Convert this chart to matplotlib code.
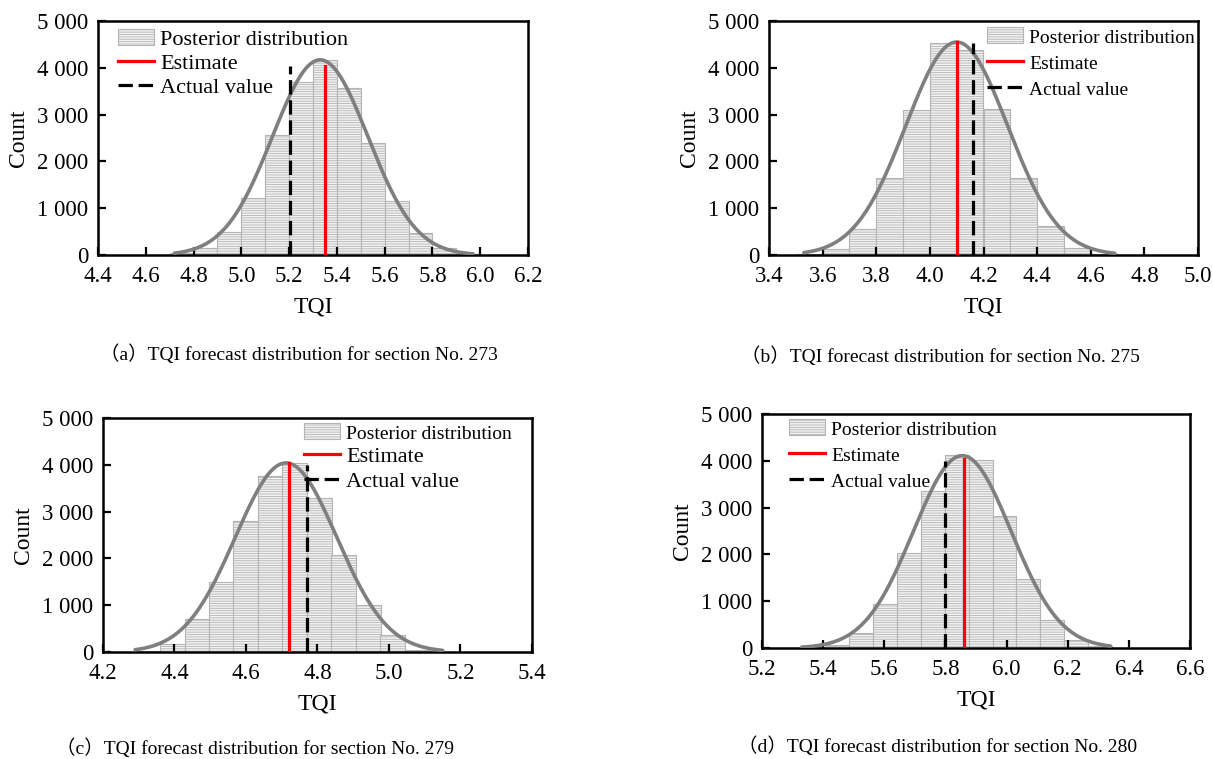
import numpy as np
import matplotlib
matplotlib.use("Agg")
import matplotlib.pyplot as plt
from matplotlib.ticker import FuncFormatter, MultipleLocator
from matplotlib.patches import Patch
from matplotlib.lines import Line2D

plt.rcParams['font.family'] = ['Liberation Serif', 'Noto Sans CJK SC', 'DejaVu Sans']
plt.rcParams['hatch.color'] = '#c4c4c4'
plt.rcParams['hatch.linewidth'] = 0.6

# ---------------- data ----------------
# (a) section 273
a_edges = [4.7, 4.8, 4.9, 5.0, 5.1, 5.2, 5.3, 5.4, 5.5, 5.6, 5.7, 5.8, 5.9]
a_counts = [40, 150, 500, 1220, 2560, 3700, 4170, 3570, 2400, 1160, 460, 150, 30]
a_width = 0.1
a_fit = dict(mu=5.33, sigma=0.20, peak=4170, lo=4.72, hi=5.97)
a_estimate, a_est_top = 5.35, 4030
a_actual, a_act_top = 5.205, 4030

# (b) section 275
b_edges = [3.5, 3.6, 3.7, 3.8, 3.9, 4.0, 4.1, 4.2, 4.3, 4.4, 4.5, 4.6]
b_counts = [20, 120, 560, 1650, 3100, 4530, 4380, 3120, 1640, 620, 150, 20]
b_width = 0.1
b_fit = dict(mu=4.10, sigma=0.19, peak=4550, lo=3.53, hi=4.69)
b_estimate, b_est_top = 4.10, 4550
b_actual, b_act_top = 4.16, 4540

# (c) section 279
c_edges = [4.292, 4.360, 4.428, 4.497, 4.565, 4.634, 4.702, 4.771, 4.839, 4.908, 4.976, 5.045]
c_counts = [20, 180, 700, 1500, 2800, 3770, 4040, 3300, 2080, 1000, 370, 50]
c_width = 0.0685
c_fit = dict(mu=4.712, sigma=0.142, peak=4040, lo=4.29, hi=5.15)
c_estimate, c_est_top = 4.72, 4040
c_actual, c_act_top = 4.77, 4000

# (d) section 280
d_edges = [5.330, 5.408, 5.486, 5.564, 5.642, 5.720, 5.798, 5.876, 5.954, 6.032, 6.110, 6.188, 6.266]
d_counts = [25, 60, 325, 940, 2020, 3360, 4120, 4020, 2820, 1470, 590, 180, 40]
d_width = 0.078
d_fit = dict(mu=5.855, sigma=0.16, peak=4110, lo=5.33, hi=6.34)
d_estimate, d_est_top = 5.86, 4030
d_actual, d_act_top = 5.80, 4000

xlims = {'a': (4.4, 6.2), 'b': (3.4, 5.0), 'c': (4.2, 5.4), 'd': (5.2, 6.6)}
captions = {
    'a': '（a）TQI forecast distribution for section No. 273',
    'b': '（b）TQI forecast distribution for section No. 275',
    'c': '（c）TQI forecast distribution for section No. 279',
    'd': '（d）TQI forecast distribution for section No. 280',
}
legend_labels = ['Posterior distribution', 'Estimate', 'Actual value']

# ---------------- layout (pixels) ----------------
W, H = 1213, 759
fig = plt.figure(figsize=(W / 100, H / 100), dpi=100)

boxes = {  # left, right, top, bottom
    'a': (98, 528, 21, 255),
    'b': (769, 1198, 21, 255),
    'c': (103, 532, 418, 652),
    'd': (762, 1190, 414, 648),
}
caption_pos = {'a': (299, 354), 'b': (940, 356), 'c': (255, 748), 'd': (938, 746)}
# legend anchor: (x pixel, y pixel of legend top, loc)
legend_anchor = {'a': (118, 29, 'upper left'), 'b': (1195, 27, 'upper right'),
                 'c': (512, 423, 'upper right'), 'd': (789, 419, 'upper left')}
legend_size = {'a': [16, 16, 16], 'b': [14, 14, 14], 'c': [14, 16, 16], 'd': [14, 14, 14]}
legend_spacing = {'a': 0.16, 'b': 0.3, 'c': 0.18, 'd': 0.3}

panels = {
    'a': (a_edges, a_counts, a_width, a_fit, a_estimate, a_est_top, a_actual, a_act_top),
    'b': (b_edges, b_counts, b_width, b_fit, b_estimate, b_est_top, b_actual, b_act_top),
    'c': (c_edges, c_counts, c_width, c_fit, c_estimate, c_est_top, c_actual, c_act_top),
    'd': (d_edges, d_counts, d_width, d_fit, d_estimate, d_est_top, d_actual, d_act_top),
}

fmt = FuncFormatter(lambda v, p: f"{int(round(v)):,}".replace(",", " "))
bar_face = '#f2f2f2'
bar_edge = '#b4b4b4'
curve_col = '#7f7f7f'

for key, (edges, counts, width, fit, est, est_top, act, act_top) in panels.items():
    l, r, t, b = boxes[key]
    ax = fig.add_axes([l / W, 1 - b / H, (r - l) / W, (b - t) / H])
    ax.bar(edges, counts, width=width, align='edge', color=bar_face,
           edgecolor=bar_edge, linewidth=0.8, hatch='-------', zorder=1)
    xs = np.linspace(fit['lo'], fit['hi'], 400)
    ys = fit['peak'] * np.exp(-0.5 * ((xs - fit['mu']) / fit['sigma']) ** 2)
    ax.plot(xs, ys, color=curve_col, lw=2.6, zorder=3, solid_capstyle='round')
    ax.plot([est, est], [0, est_top], color='#ff0000', lw=2.3, zorder=4)
    ln, = ax.plot([act, act], [0, act_top], color='black', lw=2.3, zorder=4)
    ln.set_dashes([4.5, 1.8])

    ax.set_xlim(*xlims[key])
    ax.set_ylim(0, 5000)
    ax.xaxis.set_major_locator(MultipleLocator(0.2))
    ax.xaxis.set_major_formatter(FuncFormatter(lambda v, p: f"{v:.1f}"))
    ax.yaxis.set_major_locator(MultipleLocator(1000))
    ax.yaxis.set_major_formatter(fmt)
    ax.tick_params(direction='in', length=6, width=1.6, labelsize=16.5, pad=7,
                   top=False, right=False)
    ax.tick_params(axis='x', pad=8)
    for s in ax.spines.values():
        s.set_linewidth(1.8)
    ax.set_xlabel('TQI', fontsize=17, labelpad=7)
    ax.set_ylabel('Count', fontsize=17, labelpad=6)

    handles = [
        Patch(facecolor=bar_face, edgecolor=bar_edge, hatch='-------', linewidth=0.8),
        Line2D([], [], color='#ff0000', lw=2.3),
        Line2D([], [], color='black', lw=2.3, dashes=[4.5, 1.8]),
    ]
    ax_, ay_, loc = legend_anchor[key]
    leg = ax.legend(handles, legend_labels, loc=loc, frameon=False,
                    bbox_to_anchor=(ax_ / W, 1 - ay_ / H), bbox_transform=fig.transFigure,
                    handlelength=1.6, handletextpad=0.3, labelspacing=legend_spacing[key],
                    borderaxespad=0.0, borderpad=0.0, fontsize=16)
    for txt, fs in zip(leg.get_texts(), legend_size[key]):
        txt.set_fontsize(fs)

    cx, cy = caption_pos[key]
    fig.text(cx / W, 1 - cy / H, captions[key], ha='center', va='center', fontsize=14)

fig.savefig('out.png', dpi=100)
